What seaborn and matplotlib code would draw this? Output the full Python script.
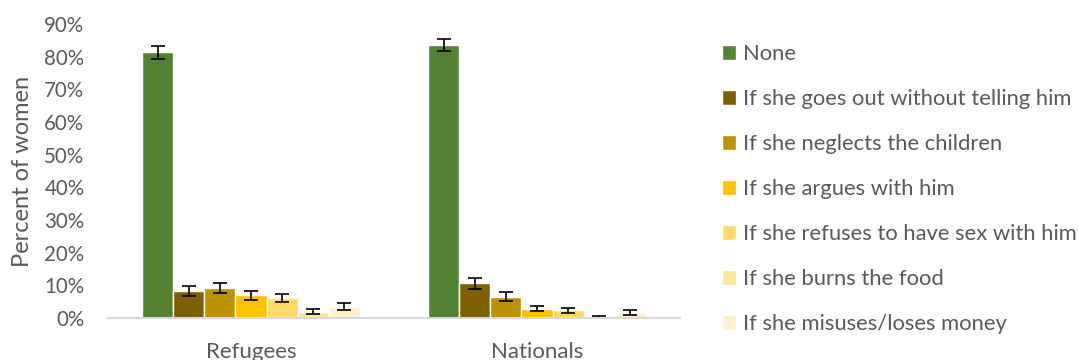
import pandas as pd
import seaborn as sns
import matplotlib.pyplot as plt
from matplotlib.ticker import PercentFormatter

# Data (percent of women)
groups = ["Refugees", "Nationals"]
reasons = [
    "None",
    "If she goes out without telling him",
    "If she neglects the children",
    "If she argues with him",
    "If she refuses to have sex with him",
    "If she burns the food",
    "If she misuses/loses money",
]
refugees_pct = [81.3, 8.3, 9.1, 6.9, 6.1, 1.9, 3.5]
refugees_err = [2.0, 1.5, 1.5, 1.3, 1.3, 0.8, 1.0]
nationals_pct = [83.5, 10.6, 6.5, 2.9, 2.3, 0.4, 1.7]
nationals_err = [1.9, 1.6, 1.35, 0.85, 0.85, 0.3, 0.8]

colors = ["#548235", "#7F6000", "#BF9000", "#FFC000", "#FFD966", "#FFE699", "#FFF2CC"]

# long form table for seaborn
rows = []
for g, vals, errs in [("Refugees", refugees_pct, refugees_err),
                      ("Nationals", nationals_pct, nationals_err)]:
    for r, v, e in zip(reasons, vals, errs):
        rows.append({"group": g, "reason": r, "pct": v, "err": e})
df = pd.DataFrame(rows)

sns.set_style("white")
plt.rcParams["font.family"] = ["Lato", "DejaVu Sans"]
text_gray = "#595959"

fig = plt.figure(figsize=(10.78, 3.6), dpi=100)
ax = fig.add_axes([0.1002, 0.1167, 0.5306, 0.8166])

sns.barplot(data=df, x="group", y="pct", hue="reason", order=groups,
            hue_order=reasons, palette=colors, width=0.762,
            errorbar=None, saturation=1, ax=ax)

# error bars on top of each bar (patches come hue by hue)
bars = [p for p in ax.patches if p.get_height() > 0]
for i, r in enumerate(reasons):
    for j, g in enumerate(groups):
        p = bars[i * len(groups) + j]
        row = df[(df.group == g) & (df.reason == r)].iloc[0]
        ax.errorbar(p.get_x() + p.get_width() / 2, row.pct, yerr=row.err,
                    fmt="none", ecolor="black", elinewidth=1.2, capsize=5,
                    capthick=1.2)

ax.set_xlim(-0.5, 1.5)
ax.set_ylim(0, 90)
ax.set_yticks(range(0, 91, 10))
ax.yaxis.set_major_formatter(PercentFormatter(decimals=0))
ax.set_xlabel("")
ax.set_ylabel("Percent of women", fontsize=17, color=text_gray, labelpad=8)
ax.tick_params(axis="y", length=0, labelsize=14.8, colors=text_gray, pad=17)
ax.tick_params(axis="x", length=0, labelsize=16, colors=text_gray, pad=17)
for s in ["top", "right", "left"]:
    ax.spines[s].set_visible(False)
ax.spines["bottom"].set_color("#D9D9D9")
ax.spines["bottom"].set_linewidth(1.5)

leg = ax.legend(loc="upper left", bbox_to_anchor=(1.058, 0.962), frameon=False,
                fontsize=15.8, handlelength=0.66, handleheight=0.66,
                handletextpad=0.3, labelspacing=1.14, borderaxespad=0)
for t in leg.get_texts():
    t.set_color(text_gray)

fig.savefig("out.png", dpi=100)
